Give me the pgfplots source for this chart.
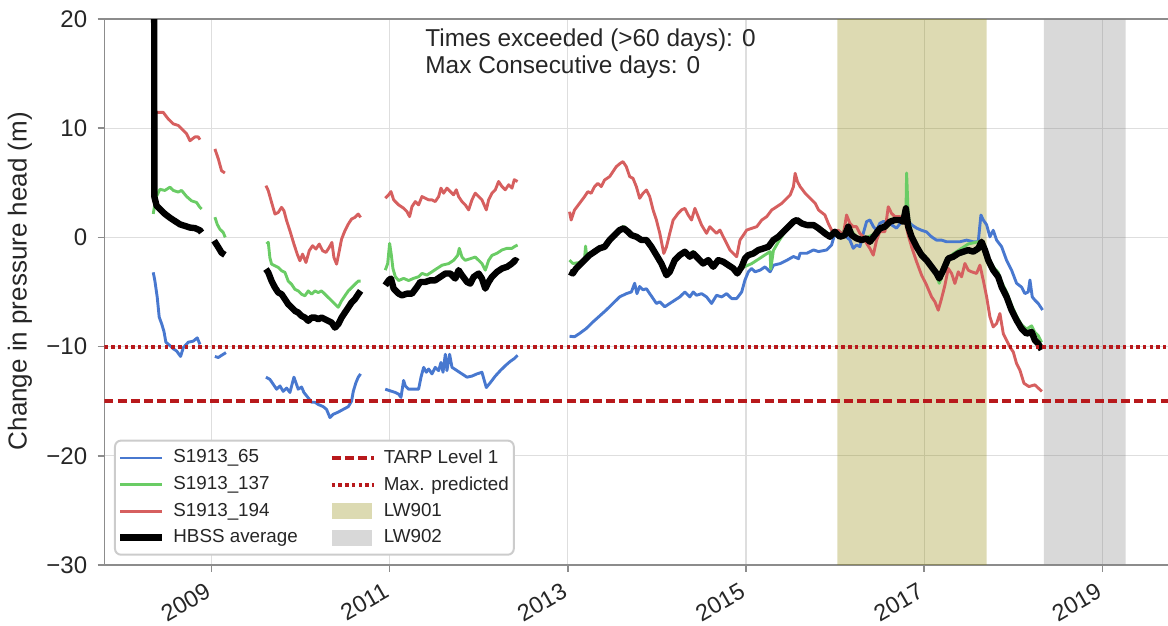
\documentclass[border=0pt]{standalone}
\usepackage{fontspec}
\setmainfont{Liberation Sans}
\usepackage{pgfplots}
\pgfplotsset{compat=1.18}
\definecolor{cblue}{HTML}{4878CF}
\definecolor{cgreen}{HTML}{6ACC65}
\definecolor{cred}{HTML}{D65F5F}
\definecolor{tarp}{HTML}{B8191C}
\definecolor{spine}{gray}{0.55}
\definecolor{gridc}{gray}{0.87}
\definecolor{txt}{gray}{0.15}
\begin{document}
\begin{tikzpicture}
\path[use as bounding box] (-52.25pt,-30.5pt) rectangle (531.75pt,282.5pt);
\begin{axis}[
  at={(0,0)}, anchor=south west, scale only axis,
  width=534pt, height=273pt,
  xmin=2007.8, xmax=2019.786, ymin=-30, ymax=20,
  unbounded coords=jump,
  axis line style={spine, line width=0.8pt},
  grid=major, major grid style={gridc, line width=0.6pt},
  xtick={2009,2011,2013,2015,2017,2019},
  xticklabels={2009,2011,2013,2015,2017,2019},
  ytick={-30,-20,-10,0,10,20},
  yticklabels={−30,−20,−10,0,10,20},
  tick align=outside, tick pos=left, major tick length=3.5pt,
  every tick/.style={spine, line width=0.8pt},
  tick label style={font=\fontsize{12}{14}\selectfont, text=txt},
  xticklabel style={font=\fontsize{11.7}{13}\selectfont, rotate=30, anchor=north east, inner sep=1pt, xshift=-4.5pt, yshift=-1.2pt},
  yticklabel style={inner sep=2pt, xshift=-3pt},
  ylabel={Change in pressure head (m)},
  every axis y label/.style={at={(axis description cs:-0.0791,0.52)}, rotate=90, anchor=center, font=\fontsize{13}{15}\selectfont, text=txt},
  legend columns=2,
  legend cell align=left,
  legend image code/.code={\draw[#1] (0pt,0pt) -- (21pt,0pt);},
  legend style={at={(axis description cs:0.0089,0.017)}, anchor=south west,
    font=\fontsize{9.4}{11}\selectfont, text=txt,
    draw=gray!40, line width=1pt, rounded corners=3pt, fill=white,
    row sep=2.1pt, inner xsep=1pt, inner ysep=3pt,
    nodes={inner sep=1.5pt},
    /tikz/every odd column/.append style={column sep=2.5pt},
    /tikz/every even column/.append style={column sep=14.5pt}},
]
% bands
\addplot[draw=none, fill=olive, fill opacity=0.3, forget plot] coordinates {(2016.024,-30) (2016.024,20) (2017.70,20) (2017.70,-30) (2016.024,-30)};
\addplot[draw=none, fill=gray, fill opacity=0.3, forget plot] coordinates {(2018.343,-30) (2018.343,20) (2019.26,20) (2019.26,-30) (2018.343,-30)};

% S1913_65
\addplot[cblue, line width=1.45pt, line join=round, forget plot] coordinates {
(2008.347,-3.2) (2008.366,-4.0) (2008.392,-5.5) (2008.414,-7.3) (2008.441,-7.9) (2008.467,-8.6) (2008.489,-9.6) (2008.534,-9.9) (2008.572,-10.2) (2008.609,-10.4) (2008.654,-10.9) (2008.684,-10.1) (2008.740,-9.6) (2008.796,-9.5) (2008.841,-9.2) (2008.871,-9.8)
(2008.95,nan)
(2009.039,-10.9) (2009.077,-11.0) (2009.114,-10.8) (2009.163,-10.55)
(2009.4,nan)
(2009.612,-12.8) (2009.656,-13.0) (2009.694,-13.45) (2009.731,-13.9) (2009.769,-13.6) (2009.806,-14.1) (2009.844,-13.8) (2009.881,-14.2) (2009.926,-12.8) (2009.948,-13.3) (2009.974,-13.9) (2010.012,-13.7) (2010.038,-14.2) (2010.087,-14.7) (2010.124,-15.1) (2010.162,-15.1) (2010.199,-15.3) (2010.255,-15.5) (2010.292,-15.75) (2010.330,-16.5) (2010.367,-16.2) (2010.423,-16.0) (2010.479,-15.75) (2010.536,-15.5) (2010.573,-15.0) (2010.592,-14.1) (2010.622,-13.3) (2010.648,-12.8) (2010.674,-12.5)
(2010.8,nan)
(2010.951,-13.9) (2011.007,-14.05) (2011.064,-14.2) (2011.101,-14.35) (2011.127,-14.65) (2011.157,-13.1) (2011.176,-13.6) (2011.213,-13.9) (2011.269,-13.9) (2011.325,-13.9) (2011.352,-12.8) (2011.382,-11.9) (2011.412,-12.35) (2011.438,-12.05) (2011.475,-12.5) (2011.512,-11.9) (2011.550,-12.2) (2011.576,-11.45) (2011.599,-12.35) (2011.625,-10.7) (2011.643,-12.2) (2011.673,-10.7) (2011.700,-11.9) (2011.756,-12.2) (2011.812,-12.5) (2011.868,-12.8) (2011.924,-12.7) (2011.980,-12.5) (2012.036,-12.35) (2012.085,-13.75) (2012.130,-13.3) (2012.186,-12.7) (2012.242,-12.2) (2012.298,-11.75) (2012.354,-11.35) (2012.399,-11.1) (2012.436,-10.8)
(2012.7,nan)
(2013.019,-9.05) (2013.075,-9.1) (2013.131,-8.8) (2013.206,-8.35) (2013.281,-7.75) (2013.356,-7.2) (2013.431,-6.65) (2013.506,-6.05) (2013.581,-5.45) (2013.656,-5.15) (2013.713,-5.0) (2013.750,-4.2) (2013.776,-5.15) (2013.806,-4.5) (2013.844,-4.8) (2013.882,-4.7) (2013.919,-5.15) (2013.957,-5.6) (2013.994,-6.05) (2014.032,-5.9) (2014.088,-6.35) (2014.144,-6.05) (2014.200,-5.75) (2014.257,-5.45) (2014.313,-5.0) (2014.369,-5.45) (2014.407,-5.0) (2014.444,-5.3) (2014.501,-5.15) (2014.557,-5.45) (2014.613,-6.05) (2014.669,-5.3) (2014.726,-5.45) (2014.782,-5.15) (2014.838,-5.6) (2014.895,-5.6) (2014.951,-5.0) (2014.988,-3.9) (2015.026,-3.15) (2015.063,-2.85) (2015.101,-3.15) (2015.157,-3.0) (2015.213,-2.7) (2015.270,-3.15) (2015.307,-2.55) (2015.382,-2.4) (2015.457,-2.1) (2015.532,-1.75) (2015.589,-1.95) (2015.607,-1.45) (2015.682,-1.45) (2015.758,-1.15) (2015.814,-1.3)
(2015.904,-1.15) (2015.960,-0.7) (2015.997,0.35) (2016.053,0.5) (2016.110,0.2) (2016.166,-0.25) (2016.203,-1.0) (2016.240,-0.7) (2016.278,-0.85) (2016.315,0.35) (2016.353,1.45) (2016.390,1.6) (2016.428,1.0) (2016.465,0.65) (2016.502,1.3) (2016.540,1.45) (2016.577,1.45) (2016.633,1.15) (2016.689,0.85) (2016.746,1.45) (2016.802,1.6) (2016.858,1.15) (2016.914,0.85) (2016.970,0.65) (2017.026,0.5) (2017.082,0.05) (2017.138,-0.25) (2017.194,-0.25) (2017.251,-0.4) (2017.325,-0.4) (2017.400,-0.4) (2017.475,-0.25) (2017.550,-0.4) (2017.606,-0.4) (2017.636,2.05) (2017.662,1.6) (2017.700,1.15) (2017.737,0.05) (2017.774,0.65) (2017.812,-0.25) (2017.868,-0.85) (2017.924,-2.1) (2017.980,-3.0) (2018.036,-4.2) (2018.092,-4.55) (2018.130,-5.15) (2018.167,-5.0) (2018.186,-3.9) (2018.212,-5.45) (2018.242,-5.75) (2018.279,-6.05) (2018.328,-6.65)
};

% S1913_137
\addplot[cgreen, line width=1.45pt, line join=round, forget plot] coordinates {
(2008.347,2.15) (2008.377,3.65) (2008.422,4.4) (2008.478,4.3) (2008.534,4.6) (2008.572,4.3) (2008.628,4.15) (2008.665,4.3) (2008.721,3.75) (2008.777,3.35) (2008.833,3.2) (2008.871,2.75) (2008.890,2.6)
(2008.95,nan)
(2009.039,1.85) (2009.065,1.2) (2009.095,0.75) (2009.133,0.45) (2009.155,0.0)
(2009.4,nan)
(2009.619,-0.6) (2009.638,-0.45) (2009.656,-1.85) (2009.675,-2.45) (2009.713,-2.6) (2009.750,-2.75) (2009.787,-3.05) (2009.825,-3.2) (2009.862,-4.0) (2009.900,-4.3) (2009.937,-4.75) (2009.974,-4.9) (2010.012,-5.2) (2010.049,-5.35) (2010.087,-4.9) (2010.124,-5.2) (2010.162,-4.9) (2010.199,-5.05) (2010.236,-4.9) (2010.274,-5.2) (2010.311,-5.5) (2010.349,-5.8) (2010.386,-6.1) (2010.423,-6.4) (2010.461,-5.8) (2010.498,-5.35) (2010.536,-4.9) (2010.573,-4.6) (2010.610,-4.3) (2010.648,-4.0) (2010.674,-4.0)
(2010.8,nan)
(2010.951,-3.0) (2010.978,-2.4) (2011.000,-0.55) (2011.019,-1.6) (2011.037,-2.85) (2011.064,-3.6) (2011.101,-3.95) (2011.157,-3.75) (2011.213,-3.95) (2011.269,-3.75) (2011.325,-3.6) (2011.363,-3.3) (2011.419,-3.45) (2011.475,-3.15) (2011.531,-2.85) (2011.587,-2.55) (2011.662,-2.4) (2011.718,-2.1) (2011.763,-1.65) (2011.782,-1.0) (2011.812,-1.8) (2011.849,-2.1) (2011.905,-1.95) (2011.961,-1.8) (2011.999,-2.1) (2012.036,-2.4) (2012.074,-3.0) (2012.111,-2.1) (2012.148,-1.65) (2012.205,-1.45) (2012.261,-1.15) (2012.317,-1.0) (2012.373,-1.0) (2012.410,-0.8) (2012.436,-0.7)
(2012.7,nan)
(2013.019,-2.08) (2013.056,-2.39) (2013.131,-2.3) (2013.187,-2.0) (2013.199,-0.8) (2013.214,-1.9) (2013.244,-1.5) (2013.300,-1.2) (2013.356,-0.9) (2013.413,-0.7) (2013.469,-0.1) (2013.525,0.35) (2013.581,0.8) (2013.626,1.0) (2013.675,0.7) (2013.713,0.3) (2013.769,0.2) (2013.825,-0.1) (2013.882,-0.1) (2013.938,-0.7) (2013.994,-1.5) (2014.050,-2.2) (2014.107,-3.2) (2014.144,-2.9) (2014.200,-2.0) (2014.257,-1.5) (2014.313,-1.2) (2014.369,-1.6) (2014.407,-1.3) (2014.463,-1.8) (2014.519,-2.3) (2014.576,-2.0) (2014.632,-2.6) (2014.688,-2.0) (2014.744,-2.1) (2014.801,-2.4) (2014.857,-2.7) (2014.902,-3.1) (2014.951,-2.8) (2015.007,-2.6) (2015.063,-2.4) (2015.120,-2.1) (2015.176,-1.8) (2015.232,-1.5) (2015.270,-1.3) (2015.277,-2.9) (2015.307,-1.2) (2015.363,-0.4) (2015.420,0.3) (2015.476,0.9) (2015.532,1.3) (2015.570,1.5) (2015.626,1.3) (2015.682,1.2) (2015.758,1.1) (2015.814,0.9)
(2015.885,0.6) (2015.941,0.2) (2015.997,0.6) (2016.053,0.2) (2016.147,1.0) (2016.240,0.0) (2016.353,0.0) (2016.446,0.3) (2016.558,1.1) (2016.671,1.7) (2016.764,1.5) (2016.794,2.0) (2016.802,5.9) (2016.820,2.0) (2016.858,0.3) (2016.914,-0.6) (2016.970,-1.4) (2017.026,-1.9) (2017.082,-2.6) (2017.138,-3.5) (2017.168,-4.2) (2017.213,-3.2) (2017.269,-1.9) (2017.325,-1.5) (2017.382,-1.2) (2017.438,-0.9) (2017.494,-0.6) (2017.550,-0.5) (2017.606,-0.4) (2017.643,-0.3) (2017.681,-0.8) (2017.718,-1.8) (2017.774,-2.7) (2017.830,-3.2) (2017.868,-4.1) (2017.924,-5.0) (2017.980,-6.2) (2018.036,-7.2) (2018.092,-8.0) (2018.148,-8.4) (2018.205,-8.1) (2018.242,-8.7) (2018.279,-9.0) (2018.317,-9.6)
};

% S1913_194
\addplot[cred, line width=1.45pt, line join=round, forget plot] coordinates {
(2008.366,11.5) (2008.403,11.45) (2008.459,11.45) (2008.515,10.85) (2008.572,10.4) (2008.628,10.25) (2008.665,9.95) (2008.721,9.5) (2008.759,8.85) (2008.815,9.2) (2008.852,9.2) (2008.871,8.95)
(2008.95,nan)
(2009.039,8.1) (2009.077,7.2) (2009.114,6.1) (2009.151,5.9)
(2009.4,nan)
(2009.612,4.74) (2009.638,4.28) (2009.675,3.21) (2009.713,2.14) (2009.750,2.29) (2009.787,2.75) (2009.814,2.45) (2009.844,1.53) (2009.881,0.61) (2009.926,-0.61) (2009.963,-1.53) (2009.993,-2.14) (2010.023,-1.53) (2010.061,-2.3) (2010.098,-1.22) (2010.135,-0.76) (2010.173,-1.07) (2010.210,-0.61) (2010.248,-1.22) (2010.285,-1.38) (2010.322,-0.92) (2010.352,-0.46) (2010.375,-1.84) (2010.405,-2.45) (2010.435,-1.22) (2010.461,-0.15) (2010.498,0.61) (2010.536,1.22) (2010.573,1.68) (2010.610,1.83) (2010.648,2.14) (2010.674,1.83)
(2010.8,nan)
(2010.951,3.59) (2010.989,3.9) (2011.015,4.2) (2011.045,3.44) (2011.101,2.98) (2011.157,2.67) (2011.195,2.36) (2011.224,1.9) (2011.251,2.82) (2011.288,3.28) (2011.325,2.98) (2011.363,3.74) (2011.400,3.59) (2011.438,3.44) (2011.475,3.44) (2011.512,3.28) (2011.550,3.74) (2011.576,4.51) (2011.606,4.05) (2011.643,4.51) (2011.681,4.2) (2011.718,3.9) (2011.748,4.36) (2011.774,3.74) (2011.812,3.28) (2011.849,2.98) (2011.887,2.52) (2011.924,3.44) (2011.961,4.05) (2011.999,3.74) (2012.036,3.44) (2012.085,2.52) (2012.111,3.44) (2012.148,4.05) (2012.186,4.36) (2012.223,5.12) (2012.261,4.66) (2012.298,4.36) (2012.336,4.82) (2012.373,4.51) (2012.399,5.28) (2012.436,5.12)
(2012.7,nan)
(2013.019,2.35) (2013.037,1.59) (2013.075,2.51) (2013.131,3.12) (2013.187,3.73) (2013.225,4.19) (2013.262,4.04) (2013.300,4.65) (2013.337,4.95) (2013.375,4.65) (2013.413,5.26) (2013.469,5.57) (2013.506,6.02) (2013.544,6.48) (2013.589,6.79) (2013.619,6.94) (2013.656,6.48) (2013.694,5.57) (2013.731,5.41) (2013.769,4.65) (2013.806,3.58) (2013.844,4.04) (2013.882,4.34) (2013.919,3.73) (2013.957,2.51) (2013.994,1.59) (2014.032,0.37) (2014.077,-1.47) (2014.107,-0.86) (2014.144,0.37) (2014.182,1.59) (2014.238,2.2) (2014.275,2.51) (2014.313,2.66) (2014.351,2.05) (2014.388,1.59) (2014.426,2.66) (2014.463,1.9) (2014.501,1.13) (2014.557,0.37) (2014.594,0.98) (2014.632,0.67) (2014.669,0.37) (2014.707,0.67) (2014.744,0.06) (2014.782,-0.55) (2014.820,-1.16) (2014.857,-1.47) (2014.895,-1.77) (2014.932,-0.24) (2014.970,0.21) (2015.007,0.67) (2015.063,0.83) (2015.120,0.98) (2015.176,1.59) (2015.232,1.9) (2015.288,2.51) (2015.345,2.81) (2015.401,3.12) (2015.457,3.58) (2015.495,3.88) (2015.532,4.65) (2015.551,5.87) (2015.577,5.11) (2015.607,4.65) (2015.664,4.04) (2015.720,3.58) (2015.776,3.12) (2015.814,2.51)
(2015.885,2.05) (2015.923,1.28) (2015.979,0.37) (2016.035,0.67) (2016.091,0.21) (2016.128,2.05) (2016.166,1.28) (2016.203,0.98) (2016.240,0.98) (2016.278,0.37) (2016.315,0.06) (2016.353,-0.55) (2016.390,-1.01) (2016.428,-1.62) (2016.465,-0.24) (2016.502,0.52) (2016.558,0.52) (2016.596,2.81) (2016.633,2.2) (2016.671,1.9) (2016.727,1.9) (2016.783,1.59) (2016.820,0.21) (2016.858,-0.86) (2016.914,-2.23) (2016.970,-3.46) (2017.026,-4.37) (2017.082,-5.44) (2017.120,-5.9) (2017.157,-6.67) (2017.194,-5.6) (2017.232,-4.37) (2017.269,-2.84) (2017.307,-3.3) (2017.344,-4.22) (2017.382,-3.15) (2017.419,-3.61) (2017.456,-2.39) (2017.494,-3.0) (2017.531,-3.15) (2017.587,-3.3) (2017.625,-2.54) (2017.662,-3.91) (2017.700,-5.44) (2017.737,-7.28) (2017.774,-8.2) (2017.812,-7.89) (2017.849,-6.97) (2017.887,-8.81) (2017.924,-9.42) (2017.961,-10.03) (2017.999,-10.49) (2018.036,-11.56) (2018.074,-12.17) (2018.119,-13.36) (2018.175,-13.66) (2018.240,-13.5) (2018.320,-14.1)
};

% HBSS average
\addplot[black, line width=3.2pt, line join=round, forget plot] coordinates {
(2008.355,40) (2008.360,3.7) (2008.385,2.9) (2008.422,2.6) (2008.478,2.15) (2008.534,1.8) (2008.590,1.5) (2008.646,1.2) (2008.703,1.05) (2008.759,0.9) (2008.815,0.85) (2008.871,0.65) (2008.890,0.45)
(2008.95,nan)
(2009.030,-0.3) (2009.077,-0.9) (2009.114,-1.4) (2009.151,-1.6)
(2009.4,nan)
(2009.612,-2.9) (2009.638,-3.21) (2009.675,-3.98) (2009.713,-4.59) (2009.750,-5.05) (2009.787,-5.2) (2009.825,-5.66) (2009.862,-6.12) (2009.900,-6.42) (2009.937,-6.73) (2009.974,-6.88) (2010.012,-7.19) (2010.049,-7.34) (2010.087,-7.64) (2010.124,-7.34) (2010.162,-7.34) (2010.199,-7.49) (2010.236,-7.34) (2010.274,-7.49) (2010.311,-7.64) (2010.349,-7.8) (2010.386,-8.26) (2010.423,-7.95) (2010.461,-7.34) (2010.498,-6.88) (2010.536,-6.42) (2010.573,-5.96) (2010.610,-5.66) (2010.648,-5.2) (2010.674,-4.89)
(2010.8,nan)
(2010.951,-4.39) (2010.989,-3.93) (2011.015,-3.77) (2011.045,-4.69) (2011.101,-5.15) (2011.138,-5.31) (2011.195,-5.15) (2011.251,-5.15) (2011.307,-4.54) (2011.344,-4.08) (2011.400,-4.08) (2011.456,-3.93) (2011.512,-3.93) (2011.569,-3.62) (2011.625,-3.31) (2011.681,-3.31) (2011.737,-3.77) (2011.774,-3.0) (2011.812,-3.47) (2011.868,-4.08) (2011.905,-4.23) (2011.943,-3.62) (2011.999,-3.31) (2012.036,-3.77) (2012.074,-4.69) (2012.111,-4.08) (2012.148,-3.62) (2012.205,-3.16) (2012.261,-2.85) (2012.317,-2.7) (2012.373,-2.39) (2012.410,-2.09) (2012.436,-2.24)
(2012.7,nan)
(2013.019,-3.15) (2013.056,-3.3) (2013.094,-2.84) (2013.131,-2.54) (2013.187,-2.08) (2013.244,-1.62) (2013.300,-1.31) (2013.356,-1.0) (2013.413,-0.86) (2013.469,-0.24) (2013.525,0.21) (2013.581,0.67) (2013.626,0.83) (2013.675,0.52) (2013.713,0.21) (2013.769,0.06) (2013.825,-0.24) (2013.882,-0.24) (2013.938,-0.86) (2013.994,-1.62) (2014.050,-2.39) (2014.107,-3.46) (2014.144,-3.15) (2014.200,-2.08) (2014.257,-1.62) (2014.313,-1.31) (2014.369,-1.77) (2014.407,-1.47) (2014.463,-1.93) (2014.519,-2.39) (2014.576,-2.08) (2014.632,-2.69) (2014.688,-2.08) (2014.744,-2.23) (2014.801,-2.54) (2014.857,-2.84) (2014.902,-3.3) (2014.951,-2.69) (2014.988,-1.93) (2015.026,-1.62) (2015.082,-1.47) (2015.138,-1.16) (2015.195,-1.01) (2015.251,-0.86) (2015.307,-0.24) (2015.363,0.06) (2015.420,0.52) (2015.476,0.98) (2015.532,1.44) (2015.570,1.59) (2015.626,1.28) (2015.682,1.13) (2015.758,1.13) (2015.814,0.83)
(2015.885,0.37) (2015.941,0.06) (2015.997,0.52) (2016.053,0.06) (2016.110,0.21) (2016.147,0.98) (2016.184,0.21) (2016.240,-0.09) (2016.297,-0.24) (2016.353,-0.09) (2016.390,-0.4) (2016.446,0.21) (2016.502,0.83) (2016.558,0.98) (2016.615,1.44) (2016.671,1.59) (2016.727,1.59) (2016.764,1.44) (2016.794,2.66) (2016.820,0.98) (2016.858,0.06) (2016.914,-0.86) (2016.970,-1.62) (2017.026,-2.08) (2017.082,-2.69) (2017.138,-3.3) (2017.168,-3.76) (2017.213,-3.0) (2017.269,-1.93) (2017.325,-1.77) (2017.382,-1.47) (2017.438,-1.31) (2017.494,-1.16) (2017.550,-1.31) (2017.606,-1.01) (2017.643,-0.4) (2017.681,-1.16) (2017.718,-2.08) (2017.774,-3.0) (2017.830,-3.61) (2017.868,-4.53) (2017.924,-5.44) (2017.980,-6.67) (2018.036,-7.58) (2018.092,-8.35) (2018.148,-8.81) (2018.205,-8.66) (2018.242,-9.42) (2018.279,-9.72) (2018.317,-10.28)
};

% reference lines
\addplot[tarp, line width=2pt, dash pattern=on 4.5pt off 2.1pt, forget plot] coordinates {(2007.8,-15) (2019.786,-15)};
\addplot[tarp, line width=2pt, dash pattern=on 1.7pt off 1.65pt, forget plot] coordinates {(2007.8,-10) (2019.786,-10)};

% legend (matrix filled row by row)
\addlegendimage{cblue, line width=1.4pt}
\addlegendentry{S1913\_65}
\addlegendimage{tarp, line width=2pt, dash pattern=on 4.5pt off 2.1pt}
\addlegendentry{TARP Level 1}
\addlegendimage{cgreen, line width=1.4pt}
\addlegendentry{S1913\_137}
\addlegendimage{tarp, line width=2pt, dash pattern=on 1.7pt off 1.65pt}
\addlegendentry{Max. predicted}
\addlegendimage{cred, line width=1.4pt}
\addlegendentry{S1913\_194}
\addlegendimage{legend image code/.code={\path[draw=none, sharp corners, fill=olive, fill opacity=0.3] (0pt,-4pt) rectangle (20pt,4pt);}}
\addlegendentry{LW901}
\addlegendimage{black, line width=3.2pt}
\addlegendentry{HBSS average}
\addlegendimage{legend image code/.code={\path[draw=none, sharp corners, fill=gray, fill opacity=0.3] (0pt,-4pt) rectangle (20pt,4pt);}}
\addlegendentry{LW902}

\node[anchor=north west, align=left, inner sep=0pt, text=txt, font=\fontsize{12.2}{13.4}\selectfont] at (rel axis cs:0.3001,0.982) {Times exceeded (>60 days): 0\\Max Consecutive days: 0};
\end{axis}
\end{tikzpicture}
\end{document}
